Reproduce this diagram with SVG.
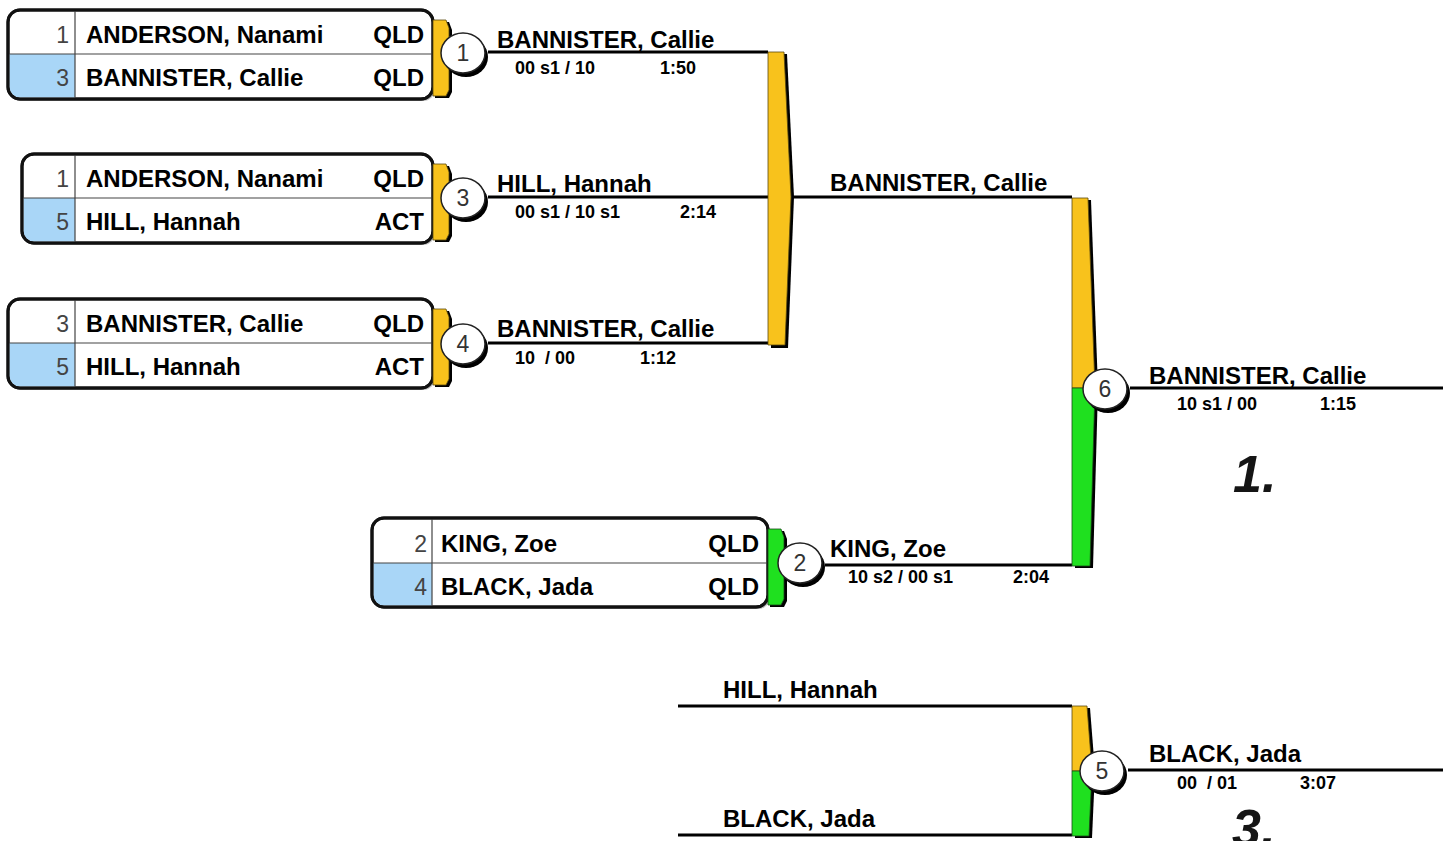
<svg xmlns="http://www.w3.org/2000/svg" width="1449" height="841" viewBox="0 0 1449 841">
<style>
.bx{fill:#fff;stroke:#111;stroke-width:3}
.sh{fill:#888;opacity:.55}
.blue{fill:#a9d6f7}
.div{stroke:#444;stroke-width:1.2}
.seed{font-family:"Liberation Sans",Arial,sans-serif;font-size:23px;fill:#444;text-anchor:end}
.nm{font-family:"Liberation Sans",Arial,sans-serif;font-size:24px;font-weight:bold;fill:#000}
.st{font-family:"Liberation Sans",Arial,sans-serif;font-size:24px;font-weight:bold;fill:#000;text-anchor:end}
.sc{font-family:"Liberation Sans",Arial,sans-serif;font-size:18px;font-weight:bold;fill:#000;white-space:pre}
.ln{stroke:#000;stroke-width:3;fill:none}
.yl{fill:#f8c21c;stroke:#5a4a10;stroke-width:.8}
.gr{fill:#1fe01f;stroke:#1a4a1a;stroke-width:.8}
.bs{fill:#000}
.cw{fill:#fff;stroke:#222;stroke-width:1.5}
.cn{font-family:"Liberation Sans",Arial,sans-serif;font-size:23px;fill:#333;text-anchor:middle}
.big{font-family:"Liberation Sans",Arial,sans-serif;font-size:52px;font-weight:bold;font-style:italic;fill:#151515}
</style>

<g id="connectors">
<path class="ln" d="M488,52 H768"/>
<path class="ln" d="M488,197 H768"/>
<path class="ln" d="M488,343 H768"/>
<path class="ln" d="M790,197 H1072"/>
<path class="ln" d="M825,565 H1072"/>
<path class="ln" d="M1130,388 H1443"/>
<path class="ln" d="M678,706 H1072"/>
<path class="ln" d="M678,835 H1072"/>
<path class="ln" d="M1128,770 H1443"/>
<path class="bs" d="M771,54 H787 L794,197 L788,348 H771 Z"/>
<path class="yl" d="M768,52 H784 L791,197 L785,345 H768 Z"/>
<path class="bs" d="M1075,200 H1091 L1098,388 L1093,568 H1075 Z"/>
<path class="yl" d="M1072,198 H1088 L1095,388 H1072 Z"/>
<path class="gr" d="M1072,388 H1095 L1090,566 H1072 Z"/>
<path class="bs" d="M1075,708 H1090 L1095,771 L1092,838 H1075 Z"/>
<path class="yl" d="M1072,706 H1087 L1092,771 H1072 Z"/>
<path class="gr" d="M1072,771 H1092 L1089,836 H1072 Z"/>
</g>

<g id="pool-match-1">
<rect class="sh" x="10" y="12" width="425" height="89" rx="12"/>
<rect class="bx" x="8" y="10" width="425" height="89" rx="12"/>
<path class="blue" d="M9.5,54 H75 V97.5 H20 A10.5,10.5 0 0 1 9.5,87 Z"/>
<path class="div" d="M75,11.5 V97.5 M9.5,54 H431.5"/>
<rect x="8" y="10" width="425" height="89" rx="12" fill="none" stroke="#111" stroke-width="3"/>
<text class="seed" x="69" y="43">1</text>
<text class="nm" x="86" y="43">ANDERSON, Nanami</text>
<text class="st" x="424" y="43">QLD</text>
<text class="seed" x="69" y="86">3</text>
<text class="nm" x="86" y="86">BANNISTER, Callie</text>
<text class="st" x="424" y="86">QLD</text>
<path class="bs" d="M435,22 H449 L452,30 V92 L449,98 H435 Z"/>
<path class="yl" d="M433,20 H446 L449,28 V90 L446,96 H433 Z"/>
<ellipse class="bs" cx="466" cy="57" rx="22" ry="20"/>
<ellipse class="cw" cx="463" cy="53" rx="22" ry="20"/>
<text class="cn" x="463" y="61">1</text>
<text class="nm" x="497" y="48">BANNISTER, Callie</text>
<text class="sc" x="515" y="74">00 s1 / 10</text>
<text class="sc" x="660" y="74">1:50</text>
</g>

<g id="pool-match-3">
<rect class="sh" x="24" y="156" width="411" height="89" rx="12"/>
<rect class="bx" x="22" y="154" width="411" height="89" rx="12"/>
<path class="blue" d="M23.5,198 H75 V241.5 H34 A10.5,10.5 0 0 1 23.5,231 Z"/>
<path class="div" d="M75,155.5 V241.5 M23.5,198 H431.5"/>
<rect x="22" y="154" width="411" height="89" rx="12" fill="none" stroke="#111" stroke-width="3"/>
<text class="seed" x="69" y="187">1</text>
<text class="nm" x="86" y="187">ANDERSON, Nanami</text>
<text class="st" x="424" y="187">QLD</text>
<text class="seed" x="69" y="230">5</text>
<text class="nm" x="86" y="230">HILL, Hannah</text>
<text class="st" x="424" y="230">ACT</text>
<path class="bs" d="M435,166 H449 L452,174 V236 L449,242 H435 Z"/>
<path class="yl" d="M433,164 H446 L449,172 V234 L446,240 H433 Z"/>
<ellipse class="bs" cx="466" cy="202" rx="22" ry="20"/>
<ellipse class="cw" cx="463" cy="198" rx="22" ry="20"/>
<text class="cn" x="463" y="206">3</text>
<text class="nm" x="497" y="192">HILL, Hannah</text>
<text class="sc" x="515" y="218">00 s1 / 10 s1</text>
<text class="sc" x="680" y="218">2:14</text>
</g>

<g id="pool-match-4">
<rect class="sh" x="10" y="301" width="425" height="89" rx="12"/>
<rect class="bx" x="8" y="299" width="425" height="89" rx="12"/>
<path class="blue" d="M9.5,343 H75 V386.5 H20 A10.5,10.5 0 0 1 9.5,376 Z"/>
<path class="div" d="M75,300.5 V386.5 M9.5,343 H431.5"/>
<rect x="8" y="299" width="425" height="89" rx="12" fill="none" stroke="#111" stroke-width="3"/>
<text class="seed" x="69" y="332">3</text>
<text class="nm" x="86" y="332">BANNISTER, Callie</text>
<text class="st" x="424" y="332">QLD</text>
<text class="seed" x="69" y="375">5</text>
<text class="nm" x="86" y="375">HILL, Hannah</text>
<text class="st" x="424" y="375">ACT</text>
<path class="bs" d="M435,311 H449 L452,319 V381 L449,387 H435 Z"/>
<path class="yl" d="M433,309 H446 L449,317 V379 L446,385 H433 Z"/>
<ellipse class="bs" cx="466" cy="348" rx="22" ry="20"/>
<ellipse class="cw" cx="463" cy="344" rx="22" ry="20"/>
<text class="cn" x="463" y="352">4</text>
<text class="nm" x="497" y="337">BANNISTER, Callie</text>
<text class="sc" x="515" y="364">10  / 00</text>
<text class="sc" x="640" y="364">1:12</text>
</g>

<g id="pool-result">
<text class="nm" x="830" y="191">BANNISTER, Callie</text>
</g>

<g id="match-2">
<rect class="sh" x="374" y="520" width="396" height="89" rx="12"/>
<rect class="bx" x="372" y="518" width="396" height="89" rx="12"/>
<path class="blue" d="M373.5,563 H432 V605.5 H384 A10.5,10.5 0 0 1 373.5,595 Z"/>
<path class="div" d="M432,519.5 V605.5 M373.5,563 H766.5"/>
<rect x="372" y="518" width="396" height="89" rx="12" fill="none" stroke="#111" stroke-width="3"/>
<text class="seed" x="427" y="552">2</text>
<text class="nm" x="441" y="552">KING, Zoe</text>
<text class="st" x="759" y="552">QLD</text>
<text class="seed" x="427" y="595">4</text>
<text class="nm" x="441" y="595">BLACK, Jada</text>
<text class="st" x="759" y="595">QLD</text>
<path class="bs" d="M770,531 H784 L787,539 V601 L784,607 H770 Z"/>
<path class="gr" d="M768,529 H781 L784,537 V599 L781,605 H768 Z"/>
<ellipse class="bs" cx="803" cy="567" rx="22" ry="20"/>
<ellipse class="cw" cx="800" cy="563" rx="22" ry="20"/>
<text class="cn" x="800" y="571">2</text>
<text class="nm" x="830" y="557">KING, Zoe</text>
<text class="sc" x="848" y="583">10 s2 / 00 s1</text>
<text class="sc" x="1013" y="583">2:04</text>
</g>

<g id="match-6">
<ellipse class="bs" cx="1108" cy="393" rx="22" ry="20"/>
<ellipse class="cw" cx="1105" cy="389" rx="22" ry="20"/>
<text class="cn" x="1105" y="397">6</text>
<text class="nm" x="1149" y="384">BANNISTER, Callie</text>
<text class="sc" x="1177" y="410">10 s1 / 00</text>
<text class="sc" x="1320" y="410">1:15</text>
<text class="big" x="1233" y="492">1.</text>
</g>

<g id="match-5">
<text class="nm" x="723" y="698">HILL, Hannah</text>
<text class="nm" x="723" y="827">BLACK, Jada</text>
<ellipse class="bs" cx="1105" cy="775" rx="22" ry="20"/>
<ellipse class="cw" cx="1102" cy="771" rx="22" ry="20"/>
<text class="cn" x="1102" y="779">5</text>
<text class="nm" x="1149" y="762">BLACK, Jada</text>
<text class="sc" x="1177" y="789">00  / 01</text>
<text class="sc" x="1300" y="789">3:07</text>
<text class="big" x="1232" y="846">3.</text>
</g>
</svg>
